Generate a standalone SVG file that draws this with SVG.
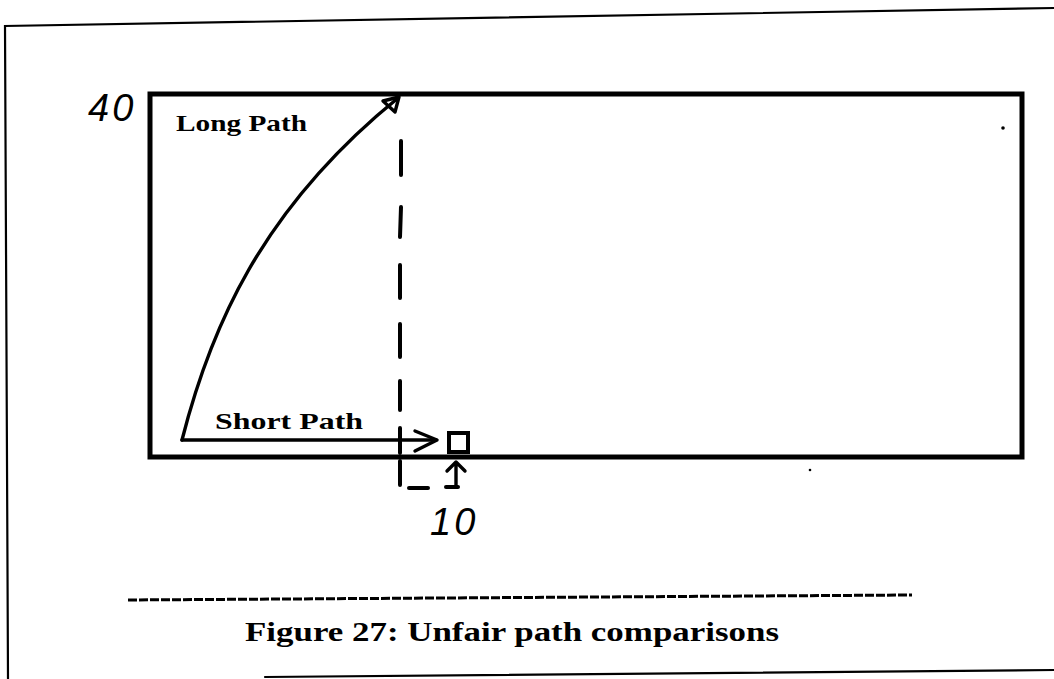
<svg xmlns="http://www.w3.org/2000/svg" width="1054" height="679" viewBox="0 0 1054 679">
  <style>
    .frame { fill: none; stroke: #000; stroke-width: 2.2; stroke-linecap: round; }
    .box { fill: none; stroke: #000; stroke-width: 5; stroke-linejoin: miter; }
    .ln { fill: none; stroke: #000; stroke-width: 3.4; stroke-linecap: round; stroke-linejoin: round; }
    .dash { fill: none; stroke: #000; stroke-width: 4; stroke-linecap: round; }
    .num { font-family: "Liberation Sans", Arial, sans-serif; font-style: italic; font-size: 38px; letter-spacing: 3px; fill: #000; }
    .lbl { font-family: "Liberation Serif", "Times New Roman", serif; font-weight: bold; font-size: 23px; fill: #000; }
    .cap { font-family: "Liberation Serif", "Times New Roman", serif; font-weight: bold; font-size: 27px; fill: #000; }
  </style>

  <rect width="1054" height="679" fill="#fff"/>

  <!-- page frame -->
  <g id="page-frame">
    <path class="frame" d="M1054,8 L5,26 L8,679"/>
    <path class="frame" d="M265,677 L1054,670"/>
  </g>

  <!-- main box -->
  <g id="area">
    <rect class="box" x="150" y="94" width="872" height="363"/>
    <circle cx="1003" cy="128" r="1.8" fill="#000"/>
    <circle cx="810" cy="470" r="1.3" fill="#000"/>
  </g>

  <g id="label-40"><text class="num" x="88" y="121">40</text></g>
  <g id="label-10"><text class="num" x="430" y="535">10</text></g>

  <g id="long-path-label"><text class="lbl" x="176" y="131" textLength="131" lengthAdjust="spacingAndGlyphs">Long Path</text></g>
  <g id="short-path-label"><text class="lbl" x="215" y="429" textLength="148" lengthAdjust="spacingAndGlyphs">Short Path</text></g>

  <g id="target">
    <rect x="449" y="433" width="19" height="19" fill="none" stroke="#000" stroke-width="4"/>
  </g>

  <g id="connectors">
    <!-- long path curve -->
    <path class="ln" d="M182,440 C210,330 260,210 398,98"/>
    <path class="ln" d="M383,101 L399,97 L395,112 Z"/>
    <!-- short path -->
    <path class="ln" d="M182,440 L436,440"/>
    <path class="ln" d="M415,431 L437,440 L415,451"/>
    <!-- dashed vertical -->
    <path class="dash" d="M401,141 L401,175 M401,207 L400,237 M400,265 L400,298 M400,324 L400,357 M400,381 L400,410 M400,428 L400,453 M400,461 L400,485"/>
    <path class="dash" d="M409,488 L428,488"/>
    <!-- up arrow under square -->
    <path class="ln" d="M456,486 L456,463 M447,471 L456,462 L465,471" stroke-width="3.8"/>
    <path class="dash" d="M446,487 L458,487"/>
  </g>

  <g id="caption">
    <path d="M128,600 L912,595" fill="none" stroke="#000" stroke-width="3" stroke-dasharray="9 2"/>
    <text class="cap" x="245" y="641" textLength="534" lengthAdjust="spacingAndGlyphs">Figure 27: Unfair path comparisons</text>
  </g>
</svg>
